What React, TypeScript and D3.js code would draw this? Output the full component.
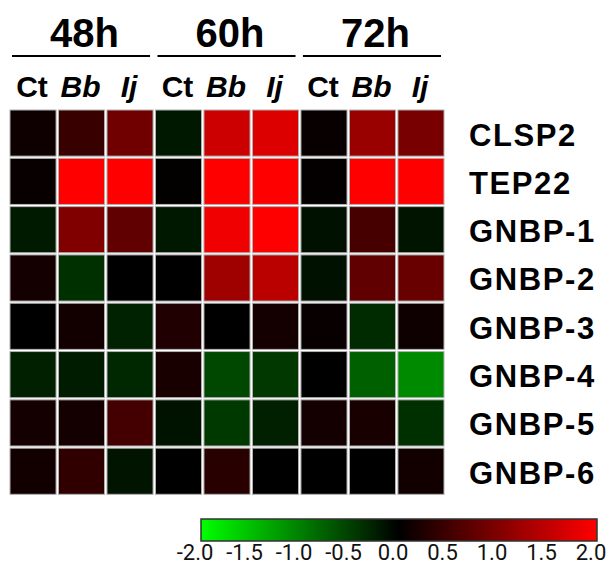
import * as d3 from 'd3'

const W = 606
const H = 566

const TIMES = ['48h', '60h', '72h']
const TREATMENTS = ['Ct', 'Bb', 'Ij']
const GENES = ['CLSP2', 'TEP22', 'GNBP-1', 'GNBP-2', 'GNBP-3', 'GNBP-4', 'GNBP-5', 'GNBP-6']

// log2 fold change, columns: 48h Ct/Bb/Ij, 60h Ct/Bb/Ij, 72h Ct/Bb/Ij
const CLSP2 = [0.12, 0.45, 0.88, -0.19, 1.6, 1.73, 0.06, 1.2, 0.94]
const TEP22 = [0.06, 2.0, 2.0, 0.02, 2.0, 2.0, 0.03, 2.0, 2.0]
const GNBP1 = [-0.2, 1.0, 0.75, -0.19, 1.88, 2.0, -0.13, 0.56, -0.16]
const GNBP2 = [0.16, -0.38, 0.0, 0.0, 1.25, 1.47, -0.13, 0.75, 0.82]
const GNBP3 = [0.0, 0.14, -0.27, 0.25, 0.0, 0.16, 0.06, -0.33, 0.12]
const GNBP4 = [-0.25, -0.22, -0.31, 0.19, -0.56, -0.44, 0.0, -0.75, -1.08]
const GNBP5 = [0.16, 0.16, 0.53, -0.14, -0.45, -0.25, 0.16, 0.19, -0.38]
const GNBP6 = [0.14, 0.38, -0.16, 0.0, 0.31, 0.0, 0.0, 0.0, 0.14]
const ROWS = [CLSP2, TEP22, GNBP1, GNBP2, GNBP3, GNBP4, GNBP5, GNBP6]

const LEGEND_TICKS = [-2.0, -1.5, -1.0, -0.5, 0.0, 0.5, 1.0, 1.5, 2.0]

const COLUMNS = TIMES.flatMap(t => TREATMENTS.map(tr => `${t}-${tr}`))

export default function App() {
  const color = d3.scaleLinear<string>()
    .domain([-2, 0, 2])
    .range(['#00ff00', '#000000', '#ff0000'])
    .clamp(true)

  const x = d3.scaleBand().domain(COLUMNS).range([10, 444]).paddingInner(0.05)
  const y = d3.scaleBand().domain(GENES).range([110, 494.3]).paddingInner(0.045)
  const lx = d3.scaleLinear().domain([-2, 2]).range([201, 597])

  const bold = '"Liberation Sans", Arial, sans-serif'

  const cells = ROWS.flatMap((vals, i) =>
    vals.map((v, j) => ({ gene: GENES[i], col: COLUMNS[j], v })))

  return (
    <svg width={W} height={H} style={{ position: 'absolute', left: 0, top: 0, background: '#fff' }}>
      <defs>
        <linearGradient id="lfc" x1="0" x2="1" y1="0" y2="0">
          {[-2, -1, 0, 1, 2].map(v => (
            <stop key={v} offset={(v + 2) / 4} stopColor={color(v)} />
          ))}
        </linearGradient>
      </defs>

      {/* time headers with underline */}
      {TIMES.map(t => {
        const x0 = x(`${t}-Ct`)!
        const x1 = x(`${t}-Ij`)! + x.bandwidth()
        return (
          <g key={t}>
            <text x={(x0 + x1) / 2 + 3} y={47} textAnchor="middle"
              fontFamily={bold} fontWeight="bold" fontSize={40}>{t}</text>
            <line x1={x0 + 2} x2={x1 - 3} y1={56} y2={56} stroke="#000" strokeWidth={2.2} />
          </g>
        )
      })}

      {/* treatment labels */}
      {COLUMNS.map(c => {
        const tr = c.split('-')[1]
        return (
          <text key={c} x={x(c)! + x.bandwidth() / 2 - 1} y={97} textAnchor="middle"
            fontFamily={bold} fontWeight="bold" fontSize={30}
            fontStyle={tr === 'Ct' ? 'normal' : 'italic'}>{tr}</text>
        )
      })}

      {/* heatmap cells */}
      {cells.map(d => (
        <rect key={d.gene + d.col}
          x={x(d.col)} y={y(d.gene)}
          width={x.bandwidth()} height={y.bandwidth()}
          fill={color(d.v)} stroke="#b0b0b0" strokeWidth={1} />
      ))}

      {/* gene labels */}
      {GENES.map(g => (
        <text key={g} x={469} y={y(g)! + y.bandwidth() / 2 + 12.5}
          fontFamily={bold} fontWeight="bold" fontSize={31} letterSpacing={1.6}>{g}</text>
      ))}

      {/* colour legend */}
      <rect x={lx(-2)} y={519} width={lx(2) - lx(-2)} height={22}
        fill="url(#lfc)" stroke="#333" strokeWidth={1.5} />
      {LEGEND_TICKS.map(v => (
        <text key={v} x={lx(v) - 6} y={560} textAnchor="middle"
          fontFamily="Roboto, sans-serif" fontSize={22} fill="#111">
          {v.toFixed(1)}
        </text>
      ))}
    </svg>
  )
}
